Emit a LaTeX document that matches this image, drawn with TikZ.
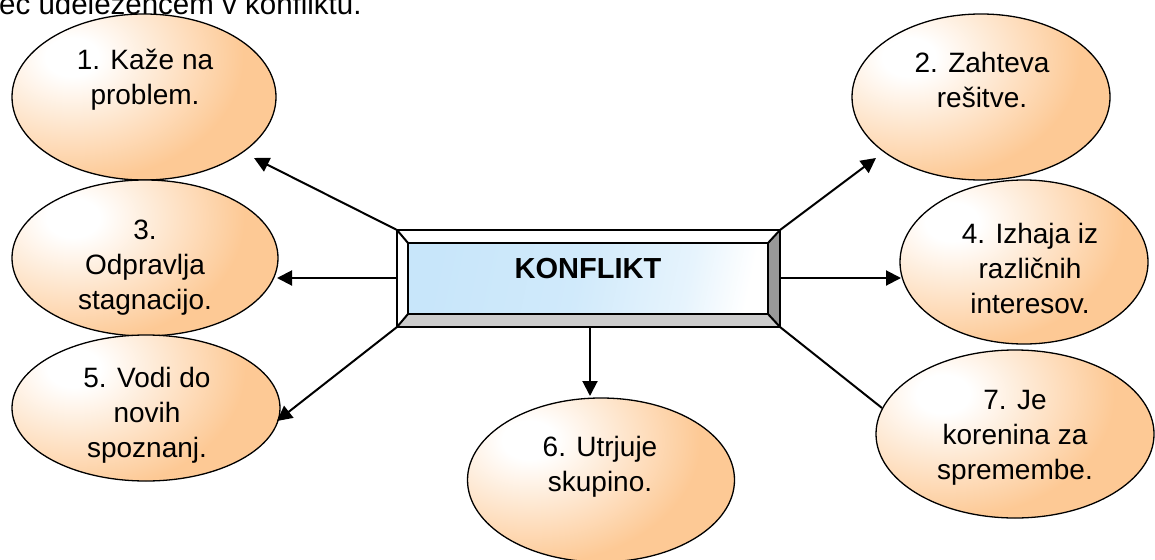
\documentclass[tikz,border=0pt]{standalone}
\usepackage{fontspec}
\setmainfont{Liberation Sans}
\usetikzlibrary{arrows.meta,shapes.geometric,calc}
\definecolor{peach}{HTML}{FDC995}
\definecolor{skyL}{HTML}{C8E6FA}
\definecolor{bevR}{HTML}{999999}
\definecolor{bevB}{HTML}{CCCCCC}
\pgfdeclarehorizontalshading{skyshade}{100bp}{color(0bp)=(skyL); color(25bp)=(skyL); color(48bp)=(skyL!85!white); color(66bp)=(skyL!45!white); color(76bp)=(white); color(100bp)=(white)}
\pgfdeclareradialshading{peachrad}{\pgfpointorigin}{color(0bp)=(white); color(2bp)=(white); color(13bp)=(peach); color(50bp)=(peach)}
\begin{document}
\begin{tikzpicture}[x=1pt,y=-1pt,
  bubble/.style={ellipse,draw=black,line width=1.3pt,fill=peach,inner sep=0pt,
    path picture={\shade[shading=peachrad]
      ($(path picture bounding box.center)+(-72pt,40pt)$) ellipse (330pt and 240pt);}},
  lbl/.style={align=center,font=\fontsize{28}{35}\selectfont,inner sep=0pt},
  arr/.style={line width=2pt,-{Triangle[length=15pt,width=15pt]}},
  edge/.style={line width=2pt},
  bev/.style={draw=black,line width=2pt,line join=miter}]
\useasboundingbox (0,0) rectangle (1155,559);

\node[anchor=base west,inner sep=0pt,font=\fontsize{29.5}{32}\selectfont] (top) at (-1,15) {ec udeležencem v konfliktu.};

% ellipses
\node[bubble,minimum width=264pt,minimum height=166pt] (e1) at (144,97) {};
\node[bubble,minimum width=258pt,minimum height=166pt] (e2) at (981,97) {};
\node[bubble,minimum width=266pt,minimum height=156pt] (e3) at (145,258) {};
\node[bubble,minimum width=248pt,minimum height=164pt] (e4) at (1024,262) {};
\node[bubble,minimum width=268pt,minimum height=146pt] (e5) at (146,408) {};
\node[bubble,minimum width=267pt,minimum height=164pt] (e6) at (601,480) {};
\node[bubble,minimum width=278pt,minimum height=168pt] (e7) at (1015,434) {};

\node[lbl] (t1) at (145,80) {1. Kaže na\\problem.};
\node[lbl] (t2) at (982,80) {2. Zahteva\\rešitve.};
\node[lbl] (t3) at (145,268) {3.\\Odpravlja\\stagnacijo.};
\node[lbl] (t4) at (1030,268) {4. Izhaja iz\\različnih\\interesov.};
\node[lbl] (t5) at (147,415) {5. Vodi do\\novih\\spoznanj.};
\node[lbl] (t6) at (600,467) {6. Utrjuje\\skupino.};
\node[lbl] (t7) at (1015,438) {7. Je\\korenina za\\spremembe.};

% central box
\coordinate (o1) at (397,230);
\coordinate (o2) at (780,230);
\coordinate (o3) at (780,327);
\coordinate (o4) at (397,327);
\coordinate (i1) at (408,243);
\coordinate (i2) at (768,243);
\coordinate (i3) at (768,314);
\coordinate (i4) at (408,314);
\fill[white] (o1) -- (o2) -- (i2) -- (i1) -- cycle;
\fill[white] (o1) -- (i1) -- (i4) -- (o4) -- cycle;
\fill[bevR] (o2) -- (o3) -- (i3) -- (i2) -- cycle;
\fill[bevB] (o4) -- (o3) -- (i3) -- (i4) -- cycle;
\shade[shading=skyshade,shading angle=-12] (i1) rectangle (i3);
\draw[bev] (o1) rectangle (o3);
\draw[bev] (i1) rectangle (i3);
\draw[bev] (o1) -- (i1) (o2) -- (i2) (o3) -- (i3) (o4) -- (i4);
\node[font=\bfseries\fontsize{29}{34}\selectfont,inner sep=0pt] (kl) at (588,269) {KONFLIKT};

% connectors
\coordinate (m6) at (590,327);
\coordinate (l3) at (397,278);
\coordinate (r4) at (780,278);
\coordinate (a1) at (254,158);
\coordinate (a2) at (876,158);
\coordinate (a3) at (277,278);
\coordinate (a4) at (901,278);
\coordinate (a5) at (277,421);
\coordinate (a6) at (590,396);
\coordinate (a7) at (882,408);
\draw[arr] (o1) -- (a1);
\draw[arr] (o2) -- (a2);
\draw[arr] (l3) -- (a3);
\draw[arr] (r4) -- (a4);
\draw[arr] (o4) -- (a5);
\draw[arr] (m6) -- (a6);
\draw[edge] (o3) -- (a7);
\end{tikzpicture}
\end{document}
